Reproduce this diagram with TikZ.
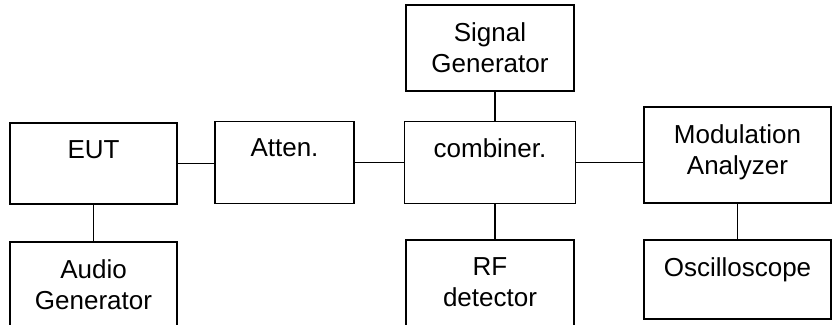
\documentclass[tikz,border=0pt]{standalone}
\usepackage{fontspec}
\setmainfont{Liberation Sans}
\usetikzlibrary{positioning}
\tikzset{
    unitbox/.style={rectangle, draw=black, line width=1.9pt, inner sep=0pt, outer sep=0pt},
    unittext/.style={anchor=north, yshift=-17pt, inner sep=0pt, align=center, font=\fontsize{26}{31}\selectfont},
    wire/.style={line width=1.9pt}
}
\begin{document}
\begin{tikzpicture}[x=1pt, y=-1pt]
            \path[use as bounding box, clip] (0,0) rectangle (832,324);
            % main row
            \node[unitbox, minimum width=167pt, minimum height=81pt, label={[unittext]north:EUT}] (eut) at (93.5,163.5) {};
            \node[unitbox, minimum width=139pt, minimum height=82pt, label={[unittext]north:Atten.}] (atten) at (284.5,162.5) {};
            \node[unitbox, minimum width=171pt, minimum height=82pt, label={[unittext]north:combiner.}] (comb) at (490,162.5) {};
            \node[unitbox, minimum width=187pt, minimum height=96pt, label={[unittext]north:Modulation\\Analyzer}] (modan) at (737.5,155) {};
            
            % above and below
            \node[unitbox, minimum width=168pt, minimum height=86pt, label={[unittext]north:Signal\\Generator}] (siggen) at (490,48) {};
            \node[unitbox, minimum width=167pt, minimum height=88pt, label={[unittext]north:Audio\\Generator}] (audio) at (93.5,286) {};
            \node[unitbox, minimum width=168pt, minimum height=90pt, label={[unittext]north:RF\\detector}] (rfdet) at (490,285) {};
            \node[unitbox, minimum width=187pt, minimum height=79pt, label={[unittext]north:Oscilloscope}] (osc) at (737.5,279.5) {};
            
            \draw[wire] (eut.east) -- (eut.east -| atten.west);
            \draw[wire] (atten.east) -- (atten.east -| comb.west);
            \draw[wire] (comb.east) -- (comb.east -| modan.west);
            \draw[wire] ([xshift=5pt]siggen.south) -- ([xshift=5pt]comb.north);
            \draw[wire] ([xshift=5pt]comb.south) -- ([xshift=5pt]rfdet.north);
            \draw[wire] (eut.south) -- (audio.north);
            \draw[wire] (modan.south) -- (osc.north);
        \end{tikzpicture}
\end{document}
